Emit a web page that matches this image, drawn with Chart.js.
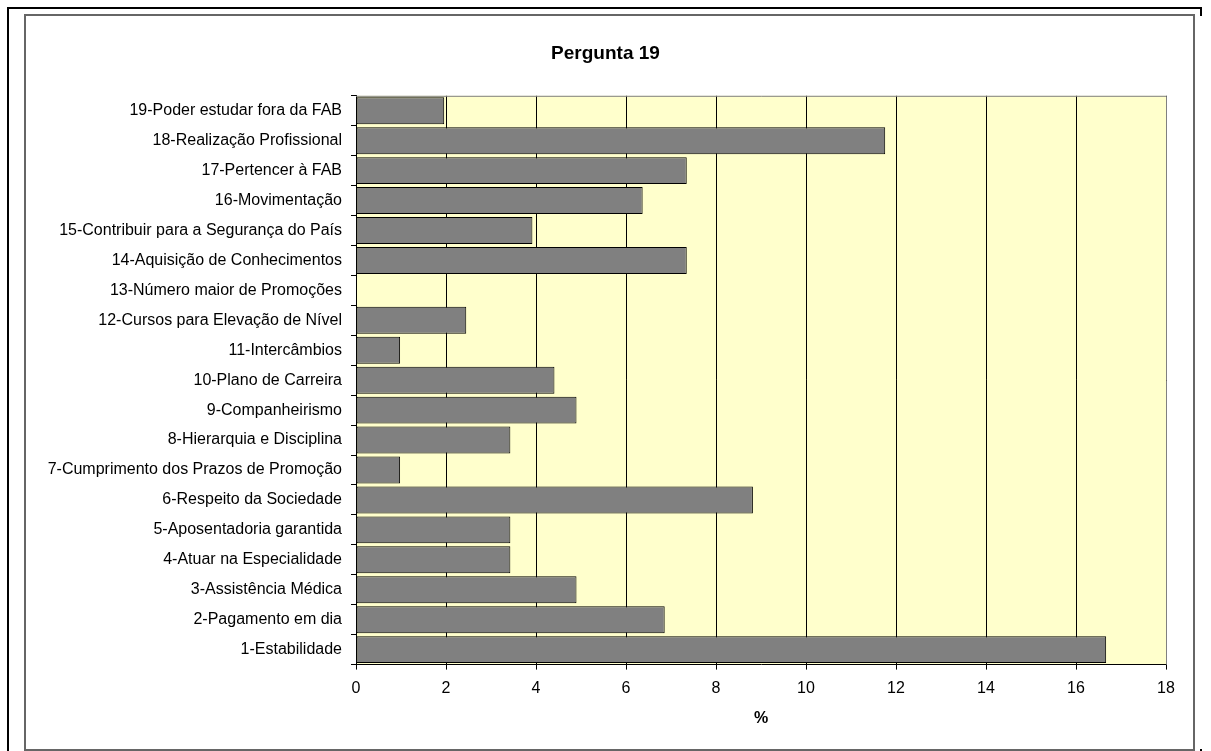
<!DOCTYPE html>
<html>
<head>
<meta charset="utf-8">
<title>Pergunta 19</title>
<script src="https://cdn.jsdelivr.net/npm/chart.js@4"></script>
<style>
  html, body { margin: 0; padding: 0; background: #ffffff; }
  #wrap { position: relative; width: 1211px; height: 751px; }
</style>
</head>
<body>
<div id="wrap"><canvas id="chart" width="1211" height="751"></canvas></div>
<script>
// Respostas à Pergunta 19 (percentual de respondentes por item)
const categories = [
  '1-Estabilidade',
  '2-Pagamento em dia',
  '3-Assistência Médica',
  '4-Atuar na Especialidade',
  '5-Aposentadoria garantida',
  '6-Respeito da Sociedade',
  '7-Cumprimento dos Prazos de Promoção',
  '8-Hierarquia e Disciplina',
  '9-Companheirismo',
  '10-Plano de Carreira',
  '11-Intercâmbios',
  '12-Cursos para Elevação de Nível',
  '13-Número maior de Promoções',
  '14-Aquisição de Conhecimentos',
  '15-Contribuir para a Segurança do País',
  '16-Movimentação',
  '17-Pertencer à FAB',
  '18-Realização Profissional',
  '19-Poder estudar fora da FAB'
];
const percentages = [
  16.67, 6.86, 4.90, 3.43, 3.43, 8.82, 0.98, 3.43, 4.90, 4.41,
  0.98, 2.45, 0.00, 7.35, 3.92, 6.37, 7.35, 11.76, 1.96
];
const xTicks = [0, 2, 4, 6, 8, 10, 12, 14, 16, 18];

const FONT = '"Liberation Sans", Arial, Helvetica, sans-serif';

// Page frame, chart border and plot-area fill
const framePlugin = {
  id: 'frame',
  beforeDraw(chart) {
    const ctx = chart.ctx;
    const a = chart.chartArea;
    ctx.save();
    ctx.fillStyle = '#ffffff';
    ctx.fillRect(0, 0, chart.width, chart.height);
    // outer black rule
    ctx.fillStyle = '#000000';
    ctx.fillRect(7, 7, 1195, 2);
    ctx.fillRect(7, 7, 2, chart.height - 7);
    ctx.fillRect(1200, 7, 2, 9);
    ctx.fillRect(1200, 749, 2, 2);
    // chart border
    ctx.fillStyle = '#666666';
    ctx.fillRect(24, 14, 1171, 2);
    ctx.fillRect(24, 14, 2, chart.height - 14);
    ctx.fillRect(1193, 14, 2, chart.height - 14);
    ctx.fillRect(24, 749, 1171, 2);
    // plot area
    ctx.fillStyle = '#FFFFCC';
    ctx.fillRect(a.left, a.top, a.right - a.left, a.bottom - a.top);
    ctx.restore();
  },
  beforeDatasetsDraw(chart) {
    const ctx = chart.ctx;
    const a = chart.chartArea;
    ctx.save();
    ctx.strokeStyle = '#808080';
    ctx.lineWidth = 1;
    ctx.beginPath();
    ctx.moveTo(a.left, a.top + 0.5);
    ctx.lineTo(a.right + 0.5, a.top + 0.5);
    ctx.lineTo(a.right + 0.5, a.bottom);
    ctx.stroke();
    ctx.restore();
  }
};

new Chart(document.getElementById('chart'), {
  type: 'bar',
  data: {
    labels: categories,
    datasets: [{
      data: percentages,
      backgroundColor: '#808080',
      borderColor: '#000000',
      borderWidth: 1,
      borderSkipped: false,
      categoryPercentage: 0.9,
      barPercentage: 1.0
    }]
  },
  options: {
    indexAxis: 'y',
    responsive: false,
    animation: false,
    events: [],
    layout: { padding: { left: 45, right: 45, top: 0, bottom: 19 } },
    plugins: {
      legend: { display: false },
      tooltip: { enabled: false },
      title: {
        display: true,
        text: 'Pergunta 19',
        color: '#000000',
        font: { family: FONT, size: 19, weight: 'bold' },
        padding: { top: 42, bottom: 31 }
      }
    },
    scales: {
      x: {
        type: 'linear',
        min: xTicks[0],
        max: xTicks[xTicks.length - 1],
        afterBuildTicks(scale) { scale.ticks = xTicks.map(v => ({ value: v })); },
        grid: {
          color: '#000000',
          lineWidth: 1,
          drawTicks: true,
          tickLength: 5,
          tickColor: '#000000'
        },
        border: { display: true, color: '#000000', width: 1 },
        ticks: {
          color: '#000000',
          padding: 9,
          font: { family: FONT, size: 16 },
          maxRotation: 0
        },
        title: {
          display: true,
          text: '%',
          color: '#000000',
          font: { family: FONT, size: 16, weight: 'bold' },
          padding: { top: 2, bottom: 4 }
        }
      },
      y: {
        reverse: true,
        grid: {
          drawOnChartArea: false,
          drawTicks: true,
          tickLength: 5,
          tickColor: '#000000',
          offset: true
        },
        border: { display: true, color: '#000000', width: 1 },
        ticks: {
          color: '#000000',
          padding: 9,
          autoSkip: false,
          font: { family: FONT, size: 16 }
        },
        afterFit(scale) { scale.width = 311; }
      }
    }
  },
  plugins: [framePlugin]
});
</script>
</body>
</html>
